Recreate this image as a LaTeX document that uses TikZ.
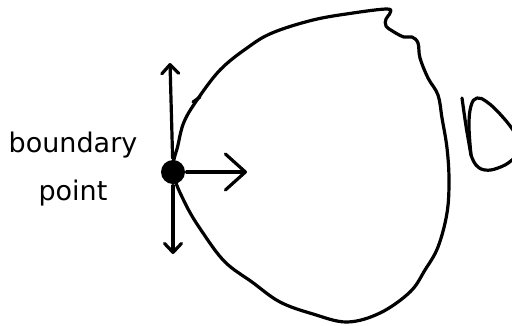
\documentclass[tikz,border=0pt]{standalone}
\usepackage{fontspec}
\setmainfont{DejaVu Sans}
\usetikzlibrary{arrows.meta}

\begin{document}
\begin{tikzpicture}[x=1pt,y=-1pt,line width=3.2pt,line cap=round,line join=round,
  smallbarb/.style={-{Straight Barb[round,length=9pt,width=17pt]}},
  bigbarb/.style={-{Straight Barb[round,length=20pt,width=36pt]}}]
\clip (0,0) rectangle (512,325);
\node[circle,fill,inner sep=0pt,minimum size=24pt] at(173,172)(p){};
\coordinate (up) at (170,63);
\coordinate (dn) at (173,254);
\coordinate (rt) at (247,172);
\node[align=center,font=\fontsize{27}{48}\selectfont] at(73,169)(lbl){boundary\\point};
% the region
\draw plot[smooth cycle,tension=0.6] coordinates {
  (173,172) (178,145) (184,122) (197,100) (220,70) (247,48) (272,33)
  (313,20) (353,13) (387,9) (390,13) (386,19) (386,26) (394,32) (404,37)
  (412,37) (418,43) (420,58) (428,78) (438,95) (442,118) (447,148)
  (449,180) (447,213) (438,247) (425,270) (410,292) (380,313) (347,322)
  (313,314) (280,302) (252,282) (225,262) (203,233) (186,205)};
\draw (193,102) -- (200,97);
% directions at the point
\path[smallbarb] (p) edge (up) (p) edge (dn);
\path[bigbarb] (p) edge (rt);
% the other piece
\draw plot[smooth] coordinates {(462,98) (466,126) (471,155)};
\draw plot[smooth,tension=0.7] coordinates {(471,155) (469,126) (471,106) (477,98)
  (487,102) (500,114) (513,130) (522,146) (512,160) (498,168) (485,170)
  (476,165) (471,155)};
\end{tikzpicture}
\end{document}
